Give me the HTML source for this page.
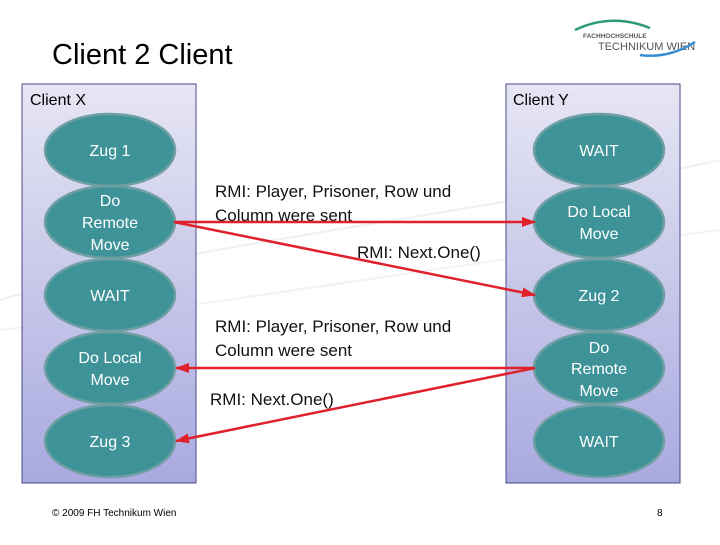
<!DOCTYPE html>
<html><head><meta charset="utf-8"><style>
body{margin:0;width:720px;height:540px;overflow:hidden;background:#fff;font-family:"Liberation Sans",sans-serif;}
</style></head><body>
<svg width="720" height="540" viewBox="0 0 720 540" xmlns="http://www.w3.org/2000/svg" font-family="Liberation Sans, sans-serif">
<defs>
<linearGradient id="g" x1="0" y1="0" x2="0" y2="1"><stop offset="0" stop-color="#e6e6f4"/><stop offset="1" stop-color="#a9a9e0"/></linearGradient>
<marker id="a" markerWidth="14" markerHeight="10" refX="13" refY="5" orient="auto" markerUnits="userSpaceOnUse"><path d="M0,0 L14,5 L0,10 z" fill="#e0202a"/></marker>
</defs>
<path d="M0,300 C200,240 450,220 720,160" stroke="#f0f0f0" stroke-width="2" fill="none"/>
<path d="M0,330 C250,300 480,260 720,230" stroke="#f2f2f2" stroke-width="2" fill="none"/>
<text x="52" y="64" font-size="29" fill="#000">Client 2 Client</text>
<text x="583" y="38" font-size="6.5" fill="#555" font-weight="bold">FACHHOCHSCHULE</text>
<text x="598" y="50" font-size="11" fill="#555">TECHNIKUM WIEN</text>
<path d="M575,30 C600,18 625,18 650,28" stroke="#2e9a7a" stroke-width="2.5" fill="none"/>
<path d="M640,55 C660,58 680,52 695,42" stroke="#3a8ed0" stroke-width="2.5" fill="none"/>
<rect x="22" y="84" width="174" height="399" fill="url(#g)" stroke="#4a4a8a" stroke-width="1"/>
<rect x="506" y="84" width="174" height="399" fill="url(#g)" stroke="#4a4a8a" stroke-width="1"/>
<text x="30" y="105" font-size="16">Client X</text>
<text x="513" y="105" font-size="16">Client Y</text>
<g fill="#3e9398" stroke="#6f9fa2" stroke-width="2.5">
<ellipse cx="110" cy="150" rx="65" ry="36"/><ellipse cx="110" cy="222" rx="65" ry="36"/><ellipse cx="110" cy="295" rx="65" ry="36"/><ellipse cx="110" cy="368" rx="65" ry="36"/><ellipse cx="110" cy="441" rx="65" ry="36"/>
<ellipse cx="599" cy="150" rx="65" ry="36"/><ellipse cx="599" cy="222" rx="65" ry="36"/><ellipse cx="599" cy="295" rx="65" ry="36"/><ellipse cx="599" cy="368" rx="65" ry="36"/><ellipse cx="599" cy="441" rx="65" ry="36"/>
</g>
<g fill="#fff" font-size="16" text-anchor="middle">
<text x="110" y="156">Zug 1</text>
<text x="110" y="206">Do</text><text x="110" y="228">Remote</text><text x="110" y="250">Move</text>
<text x="110" y="301">WAIT</text>
<text x="110" y="363">Do Local</text><text x="110" y="385">Move</text>
<text x="110" y="447">Zug 3</text>
<text x="599" y="156">WAIT</text>
<text x="599" y="217">Do Local</text><text x="599" y="239">Move</text>
<text x="599" y="301">Zug 2</text>
<text x="599" y="353">Do</text><text x="599" y="374">Remote</text><text x="599" y="396">Move</text>
<text x="599" y="447">WAIT</text>
</g>
<g stroke="#e0202a" stroke-width="2.5" marker-end="url(#a)">
<line x1="174" y1="222" x2="535" y2="222"/>
<line x1="174" y1="222" x2="535" y2="295"/>
<line x1="535" y1="368" x2="176" y2="368"/>
<line x1="535" y1="368" x2="176" y2="441"/>
</g>
<g font-size="17" fill="#111">
<text x="215" y="197">RMI: Player, Prisoner, Row und</text>
<text x="215" y="221">Column were sent</text>
<text x="357" y="258">RMI: Next.One()</text>
<text x="215" y="332">RMI: Player, Prisoner, Row und</text>
<text x="215" y="356">Column were sent</text>
<text x="210" y="405">RMI: Next.One()</text>
</g>
<text x="52" y="516" font-size="10">© 2009 FH Technikum Wien</text>
<text x="657" y="516" font-size="10">8</text>
</svg>
</body></html>
